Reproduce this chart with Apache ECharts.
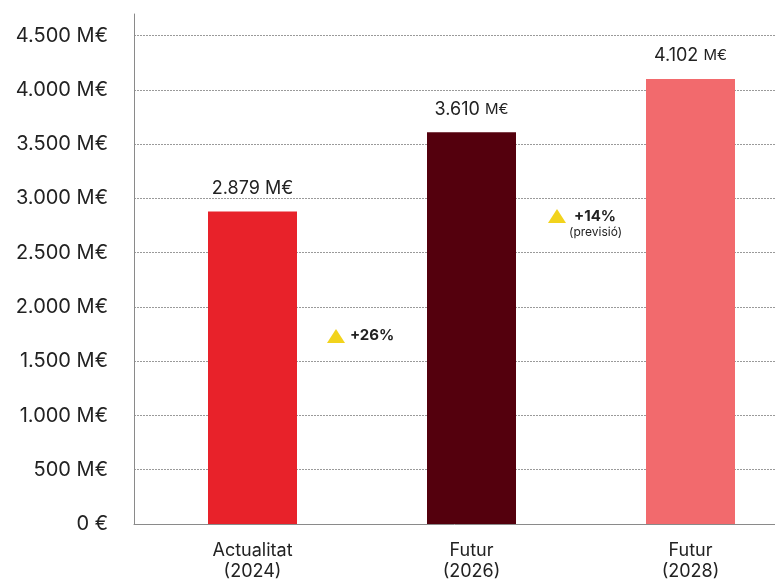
<!DOCTYPE html>
<html>
<head>
<meta charset="utf-8">
<script src="https://cdn.jsdelivr.net/npm/echarts@6/dist/echarts.min.js"></script>
<style>
html,body{margin:0;padding:0;background:#fff;}
#c{width:775px;height:579px;}
</style>
</head>
<body>
<div id="c"></div>
<script>
const categories = ['Actualitat\n(2024)', 'Futur\n(2026)', 'Futur\n(2028)'];
const values = [2879, 3610, 4102];
const barColors = ['#E8222A', '#54000D', '#F26A6D'];
const yTicks = { min: 0, max: 4700, interval: 500 };
const growth = [
  { text: '+26%', note: '' },
  { text: '+14%', note: '(previsió)' }
];

function fmtThousands(v) {
  return String(v).replace(/\B(?=(\d{3})+(?!\d))/g, '.');
}

const FONT = 'Inter, Roboto, sans-serif';
const chart = echarts.init(document.getElementById('c'), null, { renderer: 'canvas' });

const option = {
  animation: false,
  textStyle: { fontFamily: FONT },
  grid: [
    { left: 134, right: 0, top: 14, bottom: 55, outerBoundsMode: 'none', containLabel: false },
    { left: 143, width: 657, top: 14, bottom: 55, outerBoundsMode: 'none', containLabel: false }
  ],
  xAxis: [
    {
      type: 'category', gridIndex: 0, data: categories,
      axisLine: { show: true, lineStyle: { color: '#8a8a8a', width: 1 } },
      axisTick: { show: false }, axisLabel: { show: false }, splitLine: { show: false }
    },
    {
      type: 'category', gridIndex: 1, data: categories,
      axisLine: { show: false }, axisTick: { show: false },
      axisLabel: { color: '#222', fontSize: 18, fontFamily: FONT, margin: 16, lineHeight: 21 }
    }
  ],
  yAxis: [
    {
      type: 'value', gridIndex: 0, min: yTicks.min, max: yTicks.max, interval: yTicks.interval,
      axisLine: { show: true, lineStyle: { color: '#8a8a8a', width: 1 } },
      axisTick: { show: false },
      axisLabel: {
        color: '#222', fontSize: 20, fontFamily: FONT, margin: 26, showMaxLabel: false,
        formatter: v => v === 0 ? '0 €' : fmtThousands(v) + ' M€'
      },
      splitLine: { show: true, showMaxLine: false, lineStyle: { color: '#9a9a9a', type: [2, 1], width: 1 } }
    },
    {
      type: 'value', gridIndex: 1, min: yTicks.min, max: yTicks.max, interval: yTicks.interval,
      show: false, splitLine: { show: false }
    }
  ],
  series: [{
    type: 'bar',
    xAxisIndex: 1, yAxisIndex: 1,
    barWidth: 89,
    data: values.map((v, i) => ({
      value: v,
      itemStyle: { color: barColors[i] },
      label: { rich: { u: { fontSize: i === 0 ? 18 : 15, color: '#222', fontFamily: FONT } } }
    })),
    label: {
      show: true, position: 'top', distance: 14,
      color: '#222', fontSize: 18, fontFamily: FONT,
      formatter: p => fmtThousands(p.value) + ' {u|M€}'
    }
  }],
  graphic: [
    { type: 'polygon', shape: { points: [[327, 343], [336, 329], [345, 343]] }, style: { fill: '#F2D31C' } },
    { type: 'text', left: 350, top: 328, style: { text: growth[0].text, font: 'bold 15px Inter, Roboto, sans-serif', fill: '#222' } },
    { type: 'polygon', shape: { points: [[548, 223], [557, 209], [566, 223]] }, style: { fill: '#F2D31C' } },
    { type: 'text', left: 574, top: 209, style: { text: growth[1].text, font: 'bold 15px Inter, Roboto, sans-serif', fill: '#222' } },
    { type: 'text', left: 569, top: 226, style: { text: growth[1].note, font: '12px Inter, Roboto, sans-serif', fill: '#222' } }
  ]
};
chart.setOption(option);
</script>
</body>
</html>
